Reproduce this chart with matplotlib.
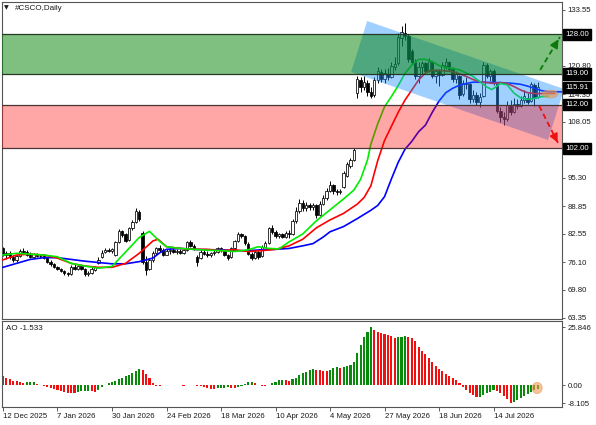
import matplotlib
matplotlib.use("Agg")

import matplotlib.pyplot as plt
import matplotlib.transforms as mtransforms
from matplotlib.patches import Polygon, Ellipse
import numpy as np

plt.rcParams['font.family'] = ['Liberation Sans', 'DejaVu Sans']

# =====================================================================
# DATA (one value per daily bar)
# =====================================================================
open_px = [
    79.2, 77.8, 78.2, 77.2, 76.6, 77.4, 78.6, 78.4, 77.8, 77.3,
    77.9, 77.5, 77.4, 77.0, 76.2, 75.6, 75.0, 74.5, 74.0, 73.5,
    73.4, 75.0, 74.6, 75.1, 74.5, 73.4, 73.6, 74.4, 75.8, 77.2,
    78.4, 78.8, 78.6, 77.8, 80.6, 83.2, 82.4, 81.2, 83.8, 85.2,
    87.6, 82.8, 76.0, 74.6, 76.6, 78.2, 79.2, 78.8, 77.8, 78.6,
    78.9, 78.4, 78.7, 78.2, 78.8, 80.6, 79.8, 77.2, 77.0, 78.4,
    78.0, 77.6, 78.2, 78.4, 79.2, 78.8, 77.6, 77.2, 79.2, 80.8,
    82.4, 82.0, 80.2, 78.0, 77.0, 78.4, 77.4, 79.6, 80.4, 83.8,
    83.0, 82.0, 82.4, 81.9, 82.8, 82.6, 85.4, 87.8, 89.6, 88.4,
    89.2, 88.6, 89.0, 86.8, 89.4, 90.6, 92.4, 93.6, 92.2, 92.0,
    93.2, 95.8, 98.0, 99.4, 114.6, 117.6, 116.0, 117.0, 114.8, 114.2,
    117.6, 119.4, 117.8, 119.0, 118.2, 120.6, 121.4, 127.2, 128.4, 127.6,
    124.2, 121.6, 118.5, 120.5, 121.4, 119.8, 121.6, 118.6, 119.6, 118.8,
    120.8, 121.6, 120.0, 117.8, 118.6, 114.4, 116.8, 116.6, 113.2, 114.2,
    112.6, 114.0, 121.0, 118.6, 119.6, 116.8, 110.6, 109.2, 108.6, 111.6,
    110.4, 112.2, 111.6, 113.0, 113.6, 112.8, 116.4, 113.8,
]
high_px = [
    79.6, 78.6, 78.6, 77.8, 77.6, 79.0, 79.2, 78.8, 78.4, 78.2,
    78.2, 77.9, 77.8, 77.2, 76.5, 75.9, 75.3, 74.8, 74.3, 73.9,
    75.4, 75.6, 75.4, 75.3, 74.8, 74.0, 75.0, 75.2, 77.2, 78.8,
    79.2, 79.2, 79.3, 80.9, 83.6, 83.5, 82.8, 84.2, 85.6, 88.4,
    88.0, 83.2, 77.4, 77.0, 78.6, 79.6, 80.0, 79.4, 79.0, 79.2,
    79.4, 79.0, 79.0, 79.0, 81.0, 81.2, 80.2, 77.6, 78.8, 78.8,
    78.6, 78.4, 78.8, 79.6, 79.6, 79.0, 78.0, 79.6, 81.2, 83.0,
    82.8, 82.2, 80.6, 78.4, 78.8, 78.8, 80.0, 80.8, 84.2, 84.6,
    83.4, 82.8, 82.8, 83.2, 83.4, 86.0, 88.6, 90.4, 90.2, 89.8,
    89.6, 89.6, 89.4, 90.0, 91.4, 93.0, 94.6, 94.0, 92.8, 92.8,
    96.8, 98.8, 99.9, 102.2, 118.6, 118.2, 118.4, 117.6, 116.0, 118.2,
    120.6, 120.0, 120.2, 120.4, 121.8, 122.8, 128.3, 130.0, 130.6, 128.0,
    124.6, 122.3, 121.8, 122.0, 121.8, 122.6, 121.8, 120.0, 120.2, 121.6,
    122.6, 122.0, 120.6, 119.6, 118.8, 117.6, 118.2, 117.0, 115.4, 114.8,
    114.6, 121.8, 121.4, 120.2, 120.0, 117.2, 111.5, 110.2, 112.8, 113.0,
    113.4, 113.2, 114.0, 115.2, 114.6, 117.2, 116.8, 117.2,
]
low_px = [
    77.4, 76.8, 76.9, 76.2, 76.2, 77.2, 78.0, 77.4, 77.0, 77.0,
    77.2, 77.0, 76.8, 75.9, 75.3, 74.8, 74.2, 73.8, 73.2, 73.0,
    73.2, 74.2, 74.2, 74.3, 72.9, 73.0, 73.4, 74.0, 75.6, 77.0,
    78.2, 78.3, 78.2, 77.4, 80.4, 81.8, 80.6, 81.0, 83.4, 85.0,
    85.4, 75.6, 73.1, 74.4, 76.2, 77.8, 78.4, 77.4, 77.6, 78.0,
    78.2, 78.0, 78.0, 78.0, 78.6, 79.6, 78.8, 75.2, 76.8, 77.6,
    77.2, 77.2, 77.8, 78.2, 78.4, 77.4, 76.6, 77.0, 79.0, 80.6,
    81.6, 80.0, 77.6, 76.6, 76.8, 76.8, 77.2, 79.4, 80.2, 82.6,
    81.6, 81.6, 81.6, 81.6, 81.6, 82.2, 85.0, 87.2, 87.8, 87.8,
    88.0, 88.0, 86.2, 86.6, 89.0, 90.2, 92.0, 91.6, 91.4, 91.6,
    93.0, 95.4, 97.6, 99.2, 113.5, 114.8, 115.2, 114.0, 113.6, 113.8,
    117.0, 117.2, 117.0, 117.6, 118.0, 119.8, 121.0, 125.4, 126.8, 121.8,
    121.0, 117.8, 116.8, 119.0, 119.0, 119.5, 118.0, 117.0, 116.2, 118.4,
    120.2, 119.6, 117.2, 117.0, 113.2, 114.0, 115.6, 112.4, 112.6, 111.8,
    111.5, 113.8, 118.0, 117.4, 116.4, 110.0, 108.0, 107.4, 108.2, 109.6,
    110.0, 111.0, 111.4, 112.4, 112.2, 112.6, 111.6, 113.6,
]
close_px = [
    77.8, 78.2, 77.2, 76.6, 77.4, 78.6, 78.4, 77.8, 77.3, 77.9,
    77.5, 77.4, 77.0, 76.2, 75.6, 75.0, 74.5, 74.0, 73.5, 73.4,
    75.0, 74.6, 75.1, 74.5, 73.4, 73.6, 74.6, 74.9, 76.6, 78.2,
    78.8, 78.6, 79.0, 80.6, 83.2, 82.2, 81.0, 83.8, 85.2, 87.8,
    86.0, 76.0, 74.4, 76.6, 78.2, 79.2, 78.8, 77.8, 78.6, 78.9,
    78.4, 78.7, 78.2, 78.8, 80.6, 79.8, 79.2, 76.0, 78.4, 78.0,
    77.6, 78.2, 78.4, 79.2, 78.8, 77.6, 77.0, 79.2, 80.8, 82.4,
    82.0, 80.4, 78.0, 77.0, 78.4, 77.2, 79.6, 80.4, 83.8, 83.0,
    82.0, 82.4, 81.9, 82.8, 82.6, 85.4, 87.8, 89.6, 88.4, 89.2,
    88.6, 89.0, 86.8, 89.4, 90.6, 92.4, 93.6, 92.2, 92.0, 92.3,
    96.4, 98.4, 99.4, 101.6, 117.8, 116.0, 117.2, 114.8, 114.0, 117.6,
    119.6, 117.8, 119.2, 118.2, 120.8, 121.2, 127.4, 128.6, 127.6, 122.4,
    121.6, 118.5, 120.5, 121.4, 119.6, 122.0, 118.6, 119.6, 118.8, 121.0,
    121.8, 120.0, 117.8, 119.0, 114.2, 116.8, 116.6, 113.2, 114.2, 112.6,
    113.8, 121.0, 118.6, 119.6, 117.0, 110.6, 109.2, 108.6, 111.8, 110.4,
    112.2, 111.6, 113.0, 114.0, 112.6, 116.6, 113.6, 115.91,
]

# Alligator lines (knots: bar position, price); they run past the last bar
lips_bars = [0, 4, 8, 12, 16, 20, 24, 28, 32, 36, 40, 43, 46, 48, 52, 56, 60,
             64, 68, 72, 75, 78, 81, 84, 88, 92, 96, 100, 103, 105, 107, 108,
             110, 112, 114, 116, 118, 120, 122, 124, 126, 128, 130, 132, 134,
             136, 138, 140, 142, 143.5, 145, 146, 148, 150, 152, 154, 156, 158,
             160]
lips_vals = [77.7, 78.1, 77.9, 77.7, 77.3, 75.8, 75.2, 74.7, 75.1, 78.4, 81.7,
             83.1, 80.8, 79.6, 79.2, 79.0, 78.8, 78.7, 78.5, 78.9, 79.6, 79.2,
             79.1, 80.7, 82.5, 85.5, 88.0, 90.5, 92.5, 95.0, 99.4, 103.0,
             107.6, 111.5, 113.8, 116.3, 119.1, 121.0, 122.3, 122.3, 121.8,
             120.9, 120.4, 120.2, 119.9, 119.2, 118.4, 117.2, 116.0, 115.4,
             116.2, 116.8, 116.5, 114.6, 113.5, 113.2, 113.4, 113.8, 113.9]

teeth_bars = [0, 4, 8, 12, 16, 20, 24, 28, 32, 36, 40, 44, 45.5, 48, 52, 56,
              60, 64, 68, 72, 76, 80, 84, 88, 92, 96, 100, 104, 106, 108, 110,
              112, 114, 116, 118, 120, 122, 124, 126, 128, 132, 134, 136, 138,
              140, 144, 146, 148, 150, 152, 154, 156, 162]
teeth_vals = [76.6, 77.7, 77.9, 77.7, 77.0, 75.8, 75.2, 74.9, 74.9, 75.8,
              78.1, 80.9, 81.3, 79.6, 79.2, 79.0, 79.0, 78.7, 78.9, 78.5,
              78.7, 79.0, 79.8, 81.3, 83.9, 85.7, 87.2, 89.3, 90.8, 93.5,
              99.2, 103.8, 107.0, 110.2, 113.0, 115.3, 117.6, 119.2, 119.8,
              119.8, 119.5, 119.0, 118.4, 117.7, 117.2, 116.8, 117.0, 116.8,
              116.1, 115.3, 114.7, 114.5, 114.5]

jaw_bars = [0, 4, 8, 12, 16, 20, 24, 28, 32, 36, 40, 44, 46, 48, 52, 56, 60,
            64, 68, 72, 76, 80, 84, 88, 91, 94, 96, 100, 104, 108, 110, 112,
            114, 116, 118, 120, 122, 124, 126, 128, 130, 132, 134, 136, 138,
            146, 150, 152, 154, 156, 158, 160, 164]
jaw_vals = [74.9, 75.8, 76.7, 77.1, 77.1, 76.7, 76.3, 76.0, 75.7, 75.7, 76.2,
            77.0, 78.2, 79.0, 79.2, 79.0, 78.9, 78.9, 78.7, 78.7, 78.9, 79.0,
            79.2, 79.8, 80.3, 81.8, 83.0, 84.2, 86.0, 87.9, 89.0, 91.0, 95.0,
            98.8, 101.8, 103.6, 105.8, 107.3, 110.2, 112.8, 114.7, 115.7,
            116.4, 116.8, 117.1, 117.0, 116.8, 116.6, 116.2, 115.7, 115.2,
            114.9, 114.9]

# Awesome Oscillator histogram + bar colours (g = up, r = down)
ao_vals = [
    3.9, 3.4, 2.6, 2.0, 1.7, 1.5, 1.2, 1.3, 1.3, 1.3,
    0.5, 0.1, -0.4, -0.8, -1.1, -1.5, -2.1, -2.7, -3.1, -3.3,
    -3.4, -3.4, -3.0, -2.8, -2.7, -2.6, -2.8, -2.9, -2.2, -1.0,
    0.3, 0.8, 1.4, 2.0, 2.6, 3.3, 4.0, 4.7, 5.4, 6.3,
    7.3, 6.6, 5.2, 3.2, 1.0, -0.2, -0.3, -0.1, 0.0, 0.1,
    0.05, 0.0, -0.1, -0.15, 0.1, 0.2, 0.0, -0.2, -0.4, -0.7,
    -1.2, -1.8, -1.9, -1.4, -1.2, -1.1, -1.0, -1.1, -1.2, -0.9,
    -0.2, 0.6, 1.3, 1.4, 1.2, 0.3, -0.3, -0.5, 0.2, 1.0,
    1.6, 2.3, 2.5, 2.3, 2.1, 2.6, 3.4, 4.4, 5.3, 6.0,
    6.6, 7.1, 7.0, 6.7, 6.5, 6.4, 6.8, 7.5, 8.0, 7.9,
    8.3, 8.6, 9.2, 10.5, 14.5, 18.2, 21.4, 24.0, 25.846, 24.8,
    24.0, 23.4, 22.9, 22.4, 22.0, 21.3, 21.4, 21.8, 21.9, 21.8,
    21.3, 19.7, 16.9, 15.3, 13.8, 12.3, 10.5, 8.8, 7.4, 6.2,
    5.1, 4.2, 3.4, 2.3, 0.8, -0.6, -2.0, -3.5, -4.6, -5.4,
    -5.2, -4.6, -3.7, -2.9, -2.3, -2.7, -3.7, -4.8, -6.0, -8.105,
    -7.4, -6.5, -5.6, -4.7, -3.8, -3.0, -2.2, -1.533,
]
ao_dir = ("rrrrrrrggg" "rrrrrrrrrr" "rrggggrrgg" "gggggggggg" "grrrrrrggg"
          "rrrrggrrrr" "rrrggggrrg" "ggggrrrrgg" "gggrrggggg" "ggrrrrgggr"
          "gggggggggr" "rrrrrrgggr" "rrrrrrrrrr" "rrrrrrrrrr" "gggggrrrrr"
          "gggggggg")

date_bars = [0, 16, 32, 48, 64, 80, 96, 112, 128, 144]
date_labels = ["12 Dec 2025", "7 Jan 2026", "30 Jan 2026", "24 Feb 2026",
               "18 Mar 2026", "10 Apr 2026", "4 May 2026", "27 May 2026",
               "18 Jun 2026", "14 Jul 2026"]

price_ticks = [133.55, 127.10, 120.80, 114.35, 108.05, 95.30, 88.85, 82.55,
               76.10, 69.80, 63.35]
ao_ticks = [25.846, 0.0, -8.105]
ao_tick_labels = ["25.846", "0.00", "-8.105"]

# Drawn objects on the chart (support / resistance zones, channel, arrows)
green_zone = (119.0, 128.0)
red_zone = (102.0, 112.0)
level_boxes = [128.00, 119.00, 115.91, 112.00, 102.00]
channel_bars = [106.9, 164.7, 160.0, 102.2]
channel_prices = [131.04, 115.54, 103.92, 119.42]
arrow_up = ((157.7, 119.9), (163.5, 127.4))
arrow_dn = ((157.4, 111.7), (163.2, 102.8))
hilite_main = (160.6, 114.4)
hilite_ao = (156.8, -1.25)

# =====================================================================
# FIGURE LAYOUT (pixel based, like the terminal screenshot)
# =====================================================================
W, H = 596, 425


def px_rect(x0, y0, x1, y1):
    return [x0 / W, 1 - y1 / H, (x1 - x0) / W, (y1 - y0) / H]


fig = plt.figure(figsize=(W / 100, H / 100), dpi=100)
fig.patch.set_facecolor("white")
ax = fig.add_axes(px_rect(2, 2, 562, 319))
ax_ao = fig.add_axes(px_rect(2, 321, 562, 407))

FS = 5.6
TXT = "#1a1a1a"
XLIM = (-0.29, 164.1)

bars = np.arange(len(close_px))
o = np.array(open_px)
hi = np.array(high_px)
lo = np.array(low_px)
c = np.array(close_px)
up = c >= o

# --- candles
ax.vlines(bars, lo, hi, color="black", lw=0.7, zorder=2)
body_lo = np.minimum(o, c)
body_h = np.maximum(np.abs(c - o), 0.12)
ax.bar(bars[up], body_h[up], bottom=body_lo[up], width=0.7, color="white",
       edgecolor="black", linewidth=0.55, zorder=2.5)
ax.bar(bars[~up], body_h[~up], bottom=body_lo[~up], width=0.7, color="black",
       edgecolor="black", linewidth=0.55, zorder=2.5)

# --- alligator
ax.plot(jaw_bars, jaw_vals, color="#0000FF", lw=1.2, zorder=3)
ax.plot(teeth_bars, teeth_vals, color="#FF0000", lw=1.2, zorder=3)
ax.plot(lips_bars, lips_vals, color="#00EE00", lw=1.2, zorder=3)

# --- descending channel (semi transparent)
chan = Polygon(list(zip(channel_bars, channel_prices)), closed=True,
               facecolor="#1E90FF", alpha=0.42, edgecolor="none", zorder=4)
ax.add_patch(chan)

# --- zones
ax.axhspan(*green_zone, color="#008000", alpha=0.5, lw=0, zorder=5)
ax.axhspan(*red_zone, color="#FF0000", alpha=0.35, lw=0, zorder=5)
for lvl in green_zone:
    ax.axhline(lvl, color="#243a24", lw=0.9, zorder=5.5)
for lvl in red_zone:
    ax.axhline(lvl, color="#4a3434", lw=0.9, zorder=5.5)

# --- scenario arrows
for (p0, p1), col in [(arrow_up, "#0a7a0a"), (arrow_dn, "#ee1111")]:
    ax.plot([p0[0], p1[0]], [p0[1], p1[1]], color=col, lw=1.3,
            ls=(0, (3, 2)), zorder=6)
    ax.annotate("", xy=p1, xytext=(p1[0] - (p1[0] - p0[0]) * 0.2,
                                   p1[1] - (p1[1] - p0[1]) * 0.2),
                arrowprops=dict(arrowstyle="-|>,head_length=0.5,head_width=0.25",
                                color=col, lw=1.2), zorder=6)

ax.add_patch(Ellipse(hilite_main, width=4.7, height=1.8, facecolor="#F09A50",
                     edgecolor="#E08840", lw=0.5, alpha=0.6, zorder=6))

ax.set_xlim(*XLIM)
ax.set_ylim(63.12, 135.37)
ax.set_xticks([])
ax.yaxis.tick_right()
ax.set_yticks(price_ticks)
ax.set_yticklabels([f"{t:.2f}" for t in price_ticks])
ax.tick_params(axis="y", labelsize=FS, length=2.5, pad=1.5, width=0.6,
               colors="#444444", labelcolor=TXT)

trans = mtransforms.blended_transform_factory(ax.transAxes, ax.transData)
for lvl in level_boxes:
    ax.text(1.006, lvl, f"{lvl:.2f}", transform=trans, fontsize=FS,
            color="white", va="center", ha="left", zorder=10, clip_on=False,
            bbox=dict(boxstyle="square,pad=0.3", fc="black", ec="black"))

# --- AO panel
ao_cols = ["#0A8A0A" if d == "g" else "#F01010" for d in ao_dir]
ax_ao.bar(bars, ao_vals, width=0.62, color=ao_cols, linewidth=0, zorder=2)
ax_ao.add_patch(Ellipse(hilite_ao, width=3.0, height=5.0, facecolor="#F09A50",
                        edgecolor="#E08840", lw=0.5, alpha=0.6, zorder=4))
ax_ao.set_xlim(*XLIM)
ax_ao.set_ylim(-9.76, 28.75)
ax_ao.yaxis.tick_right()
ax_ao.set_yticks(ao_ticks)
ax_ao.set_yticklabels(ao_tick_labels)
ax_ao.tick_params(axis="y", labelsize=FS, length=2.5, pad=1.5, width=0.6,
                  colors="#444444", labelcolor=TXT)
ax_ao.set_xticks(date_bars)
ax_ao.set_xticklabels(date_labels)
ax_ao.tick_params(axis="x", labelsize=FS, length=3, pad=1.5, width=0.6,
                  colors="#444444", labelcolor=TXT)
for lab in ax_ao.get_xticklabels():
    lab.set_ha("left")

for a in (ax, ax_ao):
    for sp in a.spines.values():
        sp.set_color("#555555")
        sp.set_linewidth(0.8)

# --- captions
fig.text(4 / W, 1 - 8 / H, "\u25bc", fontsize=4.5, color=TXT, va="center",
         family=["DejaVu Sans"])
fig.text(15 / W, 1 - 8 / H, "#CSCO,Daily", fontsize=5.8, color=TXT, va="center")
fig.text(6 / W, 1 - 329 / H, "AO -1.533", fontsize=5.8, color=TXT, va="center")

fig.savefig("out.png", dpi=100)
